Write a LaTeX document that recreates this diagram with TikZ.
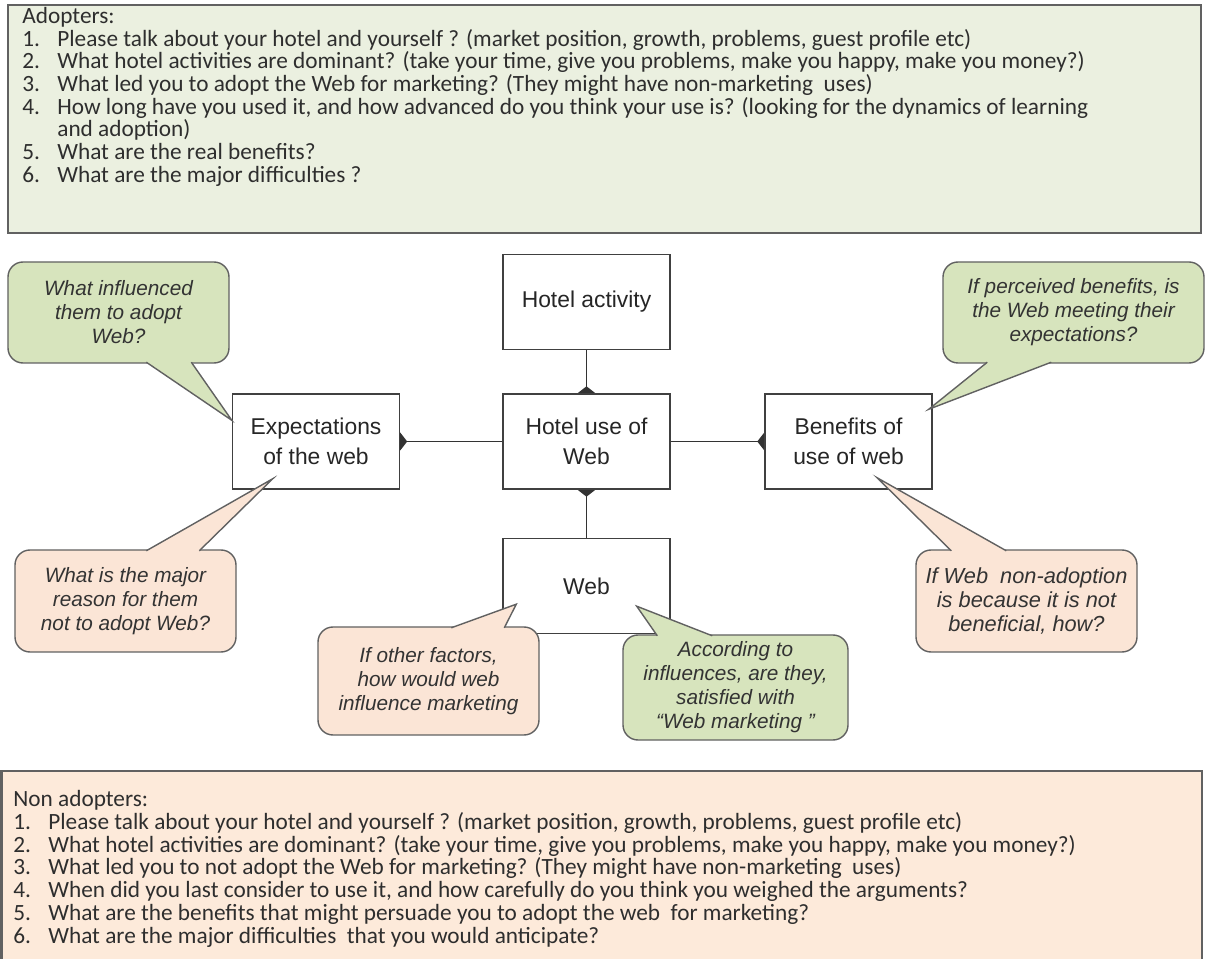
\documentclass[tikz,border=0pt]{standalone}
\usepackage{fontspec}
\setmainfont{Carlito}
\newfontfamily\arialfont{Liberation Sans}
\usepackage{tikz}
\usetikzlibrary{arrows.meta,calc,backgrounds,positioning}

\definecolor{colorAdopt}{RGB}{235,240,224}
\definecolor{colorNonAdopt}{RGB}{253,234,218}
\definecolor{colorAskG}{RGB}{215,228,189}
\definecolor{colorAskP}{RGB}{251,229,214}
\colorlet{colorEdge}{black!62}
\colorlet{colorText}{black!82}

\tikzset{
   every path/.style={>=stealth},
   panel/.style={draw=colorEdge, line width=1.2pt},
   qline/.style={anchor=base west, inner sep=0pt, text=colorText, font=\fontsize{13.25}{15}\selectfont},
   factor/.style={draw=black!75, line width=0.8pt, fill=white, minimum width=3.34cm, minimum height=1.9cm,
                  align=center, text=black!85, font=\arialfont\fontsize{13}{17}\selectfont},
   link/.style={-{Diamond[length=0.28cm,width=0.36cm]}, draw=black!80, line width=0.8pt, shorten >=-0.14cm},
   ask/.style={draw=colorEdge, line width=0.8pt, rounded corners=0.3cm, align=center, text=black!80,
               font=\arialfont\itshape\fontsize{11.8}{13.7}\selectfont},
   askG/.style={ask, fill=colorAskG},
   askP/.style={ask, fill=colorAskP},
   tipG/.style={fill=colorAskG, draw=colorEdge, line width=0.8pt, line join=miter},
   tipP/.style={fill=colorAskP, draw=colorEdge, line width=0.8pt, line join=miter},
}

\begin{document}
\begin{tikzpicture}

\useasboundingbox (0,0) rectangle (24.1,-19.18);

% =========================================================
% Adopters
% =========================================================

\draw[panel, fill=colorAdopt] (0.16,-0.10) rectangle (24.02,-4.66);

\node[qline] (a0) at (0.44,-0.47) {Adopters:};
\node[qline] (a1) at (0.44,-0.924) {\makebox[0.7cm][l]{1.}Please talk about your hotel and yourself ? (market position, growth, problems, guest profile etc)};
\node[qline] (a2) at (0.44,-1.378) {\makebox[0.7cm][l]{2.}What hotel activities are dominant? (take your time, give you problems, make you happy, make you money?)};
\node[qline] (a3) at (0.44,-1.832) {\makebox[0.7cm][l]{3.}What led you to adopt the Web for marketing? (They might have non-marketing~ uses)};
\node[qline] (a4) at (0.44,-2.286) {\makebox[0.7cm][l]{4.}How long have you used it, and how advanced do you think your use is? (looking for the dynamics of learning};
\node[qline] (a4b) at (1.14,-2.74) {and adoption)};
\node[qline] (a5) at (0.44,-3.194) {\makebox[0.7cm][l]{5.}What are the real benefits?};
\node[qline] (a6) at (0.44,-3.648) {\makebox[0.7cm][l]{6.}What are the major difficulties ?};


% =========================================================
% factors
% =========================================================

\node[factor] (act) at (11.73,-6.04) {Hotel activity};
\node[factor] (use) at (11.73,-8.83) {Hotel use of\\Web};
\node[factor] (exp) at (6.32,-8.83) {Expectations\\of the web};
\node[factor] (ben) at (16.97,-8.83) {Benefits of\\use of web};
\node[factor] (web) at (11.73,-11.72) {Web};

% links (diamond ends half hidden under the boxes)
\begin{scope}[on background layer]
\draw[link] (act) -- (use);
\draw[link] (use) -- (exp);
\draw[link] (use) -- (ben);
\draw[link] (web) -- (use);
\end{scope}


% =========================================================
% questions round the factors
% =========================================================

\node[askG, minimum width=4.42cm, minimum height=2.02cm] (qInf) at (2.37,-6.25)
{What influenced\\them to adopt\\Web?};
\path[tipG] ($(qInf.south west)+(2.78,0.03)$) -- ($(exp.north west)+(0,-0.54)$) -- ($(qInf.south west)+(3.68,0.03)$);

\node[askG, minimum width=5.22cm, minimum height=2.02cm] (qMeet) at (21.47,-6.25)
{If perceived benefits, is\\the Web meeting their\\expectations?};
\path[tipG] ($(qMeet.south west)+(0.90,0.03)$) -- ($(ben.north east)+(-0.08,-0.32)$) -- ($(qMeet.south west)+(2.18,0.03)$);

\node[askP, minimum width=4.42cm, minimum height=2.04cm] (qReason) at (2.51,-12.02)
{What is the major\\reason for them\\not to adopt Web?};
\path[tipP] ($(qReason.north west)+(2.64,-0.03)$) -- ($(exp.south west)+(0.82,0.22)$) -- ($(qReason.north west)+(3.70,-0.03)$);

\node[askP, minimum width=4.42cm, minimum height=2.04cm, font=\arialfont\itshape\fontsize{12.4}{13.7}\selectfont] (qNotBen) at (20.53,-12.02)
{If Web~ non-adoption\\is because it is not\\beneficial, how?};
\path[tipP] ($(qNotBen.north west)+(0.72,-0.03)$) -- ($(ben.south)+(0.57,0.24)$) -- ($(qNotBen.north west)+(1.82,-0.03)$);

\node[askP, minimum width=4.42cm, minimum height=2.16cm] (qOther) at (8.57,-13.62)
{If other factors,\\how would web\\influence marketing};
\path[tipP] ($(qOther.north west)+(2.68,-0.03)$) -- ($(web.south west)+(0.28,0.60)$) -- ($(qOther.north west)+(3.74,-0.03)$);

\node[askG, minimum width=4.50cm, minimum height=2.10cm] (qSat) at (14.71,-13.75)
{According to\\influences, are they,\\satisfied with\\“Web marketing ”};
\path[tipG] ($(qSat.north west)+(0.70,-0.03)$) -- ($(web.south east)+(-0.68,0.56)$) -- ($(qSat.north west)+(1.80,-0.03)$);


% =========================================================
% Non adopters
% =========================================================

\draw[panel, fill=colorNonAdopt] (0.03,-15.42) rectangle (24.04,-19.5);

\node[qline] (b0) at (0.26,-16.13) {Non adopters:};
\node[qline] (b1) at (0.26,-16.58) {\makebox[0.7cm][l]{1.}Please talk about your hotel and yourself ? (market position, growth, problems, guest profile etc)};
\node[qline] (b2) at (0.26,-17.04) {\makebox[0.7cm][l]{2.}What hotel activities are dominant? (take your time, give you problems, make you happy, make you money?)};
\node[qline] (b3) at (0.26,-17.49) {\makebox[0.7cm][l]{3.}What led you to not adopt the Web for marketing? (They might have non-marketing~ uses)};
\node[qline] (b4) at (0.26,-17.95) {\makebox[0.7cm][l]{4.}When did you last consider to use it, and how carefully do you think you weighed the arguments?};
\node[qline] (b5) at (0.26,-18.40) {\makebox[0.7cm][l]{5.}What are the benefits that might persuade you to adopt the web~ for marketing?};
\node[qline] (b6) at (0.26,-18.86) {\makebox[0.7cm][l]{6.}What are the major difficulties~ that you would anticipate?};

\end{tikzpicture}
\end{document}
